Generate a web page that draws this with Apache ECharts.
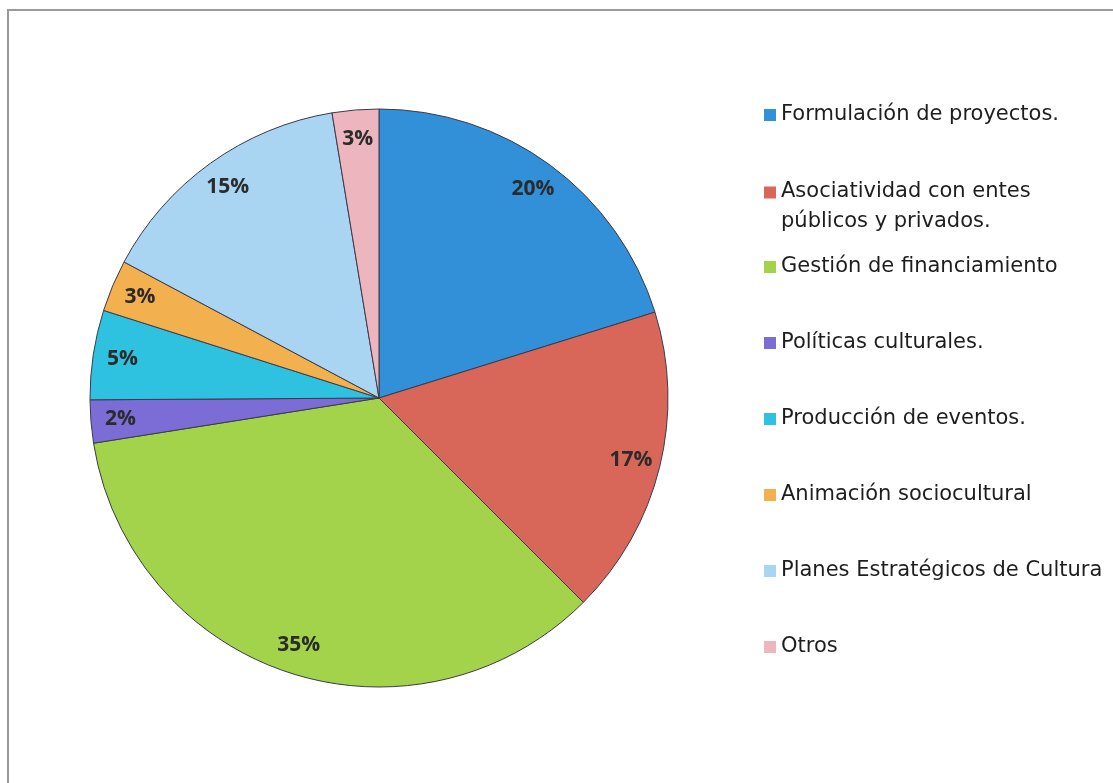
<!DOCTYPE html>
<html>
<head>
<meta charset="utf-8">
<script src="https://cdn.jsdelivr.net/npm/echarts@6/dist/echarts.min.js"></script>
<style>
html, body { margin: 0; padding: 0; background: #fff; }
#chart { width: 1113px; height: 783px; }
</style>
</head>
<body>
<div id="chart"></div>
<script type="text/javascript">

var categories = [
	'Formulación de proyectos.',
	'Asociatividad con entes públicos y privados.',
	'Gestión de financiamiento',
	'Políticas culturales.',
	'Producción de eventos.',
	'Animación sociocultural',
	'Planes Estratégicos de Cultura',
	'Otros'
];
var shares = [20.2, 17.3, 35.0, 2.4, 5.0, 2.9, 14.6, 2.6];
var sliceColors = ['#3190d8', '#d8675a', '#a3d34b', '#7b6cd6', '#2fc1e0', '#f2b04f', '#a9d5f2', '#edb6be'];

var pieData = [];
for (var i = 0; i < categories.length; i++) {
	pieData.push({ name: categories[i], value: shares[i] });
}

// one legend per entry so the vertical spacing can follow the picture
var legends = [];
for (var i = 0; i < categories.length; i++) {
	var centerY;
	if (i == 0) centerY = 115;
	else if (i == 1) centerY = 192;
	else centerY = 267 + (i - 2) * 76;
	var twoLines = categories[i].indexOf(' públicos') >= 0;
	legends.push({
		data: [categories[i]],
		left: 764,
		// wrapped entry: its box starts one line above the icon
		top: twoLines ? centerY - 29 : centerY - 14.5,
		padding: 0,
		itemWidth: 12,
		itemHeight: 12,
		itemGap: 0,
		icon: 'rect',
		itemStyle: { borderWidth: 0 },
		selectedMode: false,
		formatter: function (name) {
			if (name.indexOf(' públicos') < 0) return name;
			var parts = name.split(' públicos');
			return '{l1|' + parts[0] + '}\n{l2|públicos' + parts[1] + '}';
		},
		textStyle: {
			fontFamily: 'DejaVu Sans',
			fontSize: 21,
			lineHeight: 29,
			color: '#1e1e1e',
			rich: {
				// tall first line + flat second line keeps the icon on line one
				l1: { fontFamily: 'DejaVu Sans', fontSize: 21, color: '#1e1e1e', lineHeight: 58 },
				l2: { fontFamily: 'DejaVu Sans', fontSize: 21, color: '#1e1e1e', lineHeight: 1 }
			}
		}
	});
}

var option = {
	backgroundColor: '#fff',
	animation: false,
	color: sliceColors,
	legend: legends,
	graphic: [{
		type: 'polyline',
		shape: { points: [[8, 783], [8, 10], [1113, 10]] },
		style: { stroke: '#9a9a9a', lineWidth: 2, fill: null }
	}],
	series: [{
		type: 'pie',
		center: [379, 398],
		radius: 289,
		startAngle: 90,
		clockwise: true,
		silent: true,
		data: pieData,
		label: { show: false },
		labelLine: { show: false },
		itemStyle: { borderColor: '#3b3b4a', borderWidth: 1 }
	}, {
		// invisible ring only to carry the percent labels near the rim
		type: 'pie',
		center: [379, 398],
		radius: [224, 289],
		startAngle: 90,
		clockwise: true,
		silent: true,
		data: pieData,
		itemStyle: { color: 'rgba(0,0,0,0)', borderWidth: 0 },
		label: {
			show: true,
			position: 'inside',
			fontFamily: 'Open Sans',
			fontWeight: 'bold',
			fontSize: 21,
			color: '#2b2b2b',
			formatter: function (p) {
				return Math.round(p.percent) + '%';
			}
		},
		labelLine: { show: false }
	}]
};

var chart = echarts.init(document.getElementById('chart'));
chart.setOption(option);
</script>
</body>
</html>
